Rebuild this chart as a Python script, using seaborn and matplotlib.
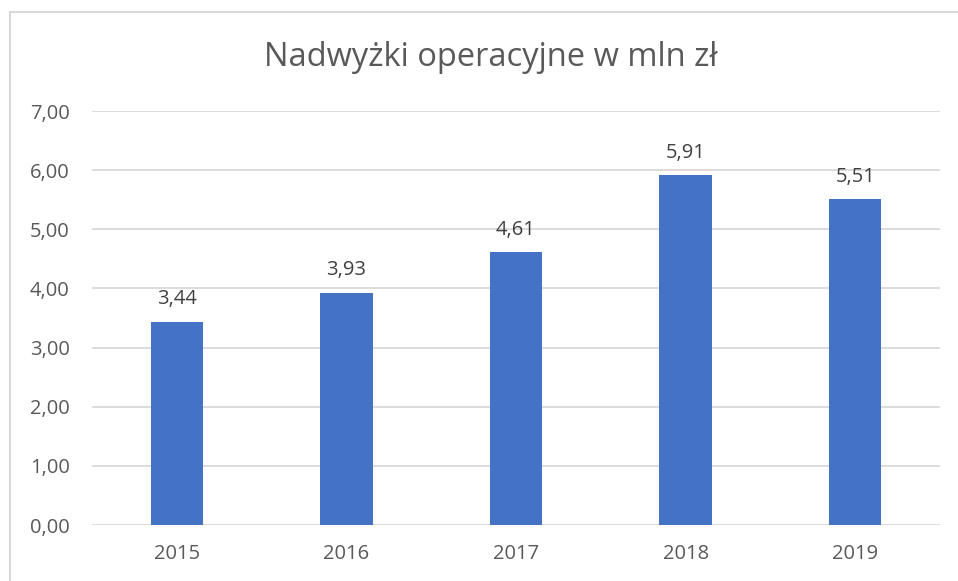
import seaborn as sns
import pandas as pd
import matplotlib.pyplot as plt
from matplotlib.patches import Rectangle

years = ['2015', '2016', '2017', '2018', '2019']
values = [3.44, 3.93, 4.61, 5.91, 5.51]
yticks = [0, 1, 2, 3, 4, 5, 6, 7]

bar_color = '#4472C4'
text_color = '#595959'
grid_color = '#D9D9D9'

sns.set_style("white")
plt.rcParams['font.family'] = ['Open Sans', 'DejaVu Sans']

W, H = 958, 581
fig = plt.figure(figsize=(W / 100, H / 100), dpi=100)
ax = fig.add_axes([92 / W, 1 - 525 / H, (940 - 92) / W, (525 - 111) / H])

df = pd.DataFrame({'Rok': years, 'Wartosc': values})
sns.barplot(data=df, x='Rok', y='Wartosc', color=bar_color, width=0.31,
            saturation=1, linewidth=0, ax=ax, zorder=3)

ax.set_ylim(0, 7)
ax.set_xlim(-0.5, len(years) - 0.5)
ax.set_yticks(yticks)
ax.set_yticklabels([f"{v:.2f}".replace('.', ',') for v in yticks])
ax.yaxis.grid(True, color=grid_color, linewidth=1.3, zorder=0)
ax.set_axisbelow(True)
for s in ax.spines.values():
    s.set_visible(False)
ax.tick_params(axis='both', length=0, labelsize=14.5, colors=text_color)
ax.tick_params(axis='y', pad=16)
ax.tick_params(axis='x', pad=14)
ax.set_xlabel('')
ax.set_ylabel('')

for i, v in enumerate(values):
    ax.annotate(f"{v:.2f}".replace('.', ','), (i, v), xytext=(0, 9),
                textcoords='offset points', ha='center', va='bottom',
                fontsize=14.5, color='#404040')

fig.text(491 / W, 1 - 58 / H, 'Nadwyżki operacyjne w mln zł', ha='center',
         va='center', fontsize=23.5, color=text_color)

# chart frame (cut by image edge on right and bottom)
fig.patches.append(Rectangle((10 / W, -0.05), 1.2, (H - 12) / H + 0.05,
                             transform=fig.transFigure, fill=False,
                             edgecolor=grid_color, linewidth=1.5))

fig.savefig('out.png', dpi=100)
